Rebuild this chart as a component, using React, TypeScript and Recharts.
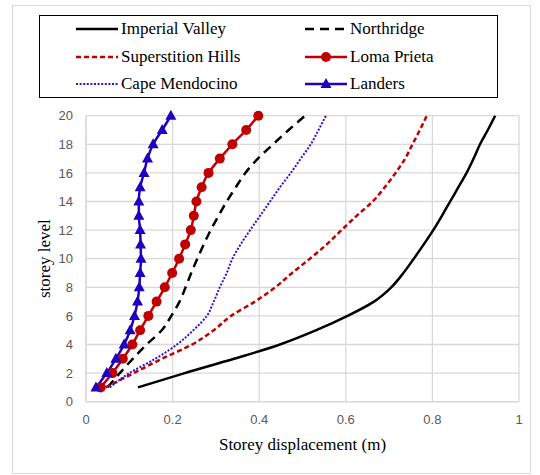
import { LineChart, Line, XAxis, YAxis, CartesianGrid, Legend, Label } from "recharts";

// storey displacement (m) at each storey level, per ground motion record
const storeyLevels = [1, 2, 3, 4, 5, 6, 7, 8, 9, 10, 11, 12, 13, 14, 15, 16, 17, 18, 19, 20];

const imperialValley = [0.12, 0.228, 0.342, 0.448, 0.532, 0.604, 0.665, 0.705, 0.733, 0.757, 0.78, 0.802, 0.822, 0.841, 0.86, 0.879, 0.895, 0.91, 0.928, 0.945];
const northridge = [0.05, 0.078, 0.108, 0.14, 0.175, 0.197, 0.216, 0.23, 0.243, 0.257, 0.272, 0.288, 0.306, 0.325, 0.346, 0.368, 0.397, 0.432, 0.468, 0.506];
const superstitionHills = [0.045, 0.11, 0.175, 0.245, 0.295, 0.335, 0.39, 0.437, 0.476, 0.517, 0.556, 0.59, 0.625, 0.662, 0.69, 0.715, 0.737, 0.754, 0.771, 0.787];
const lomaPrieta = [0.034, 0.061, 0.085, 0.107, 0.125, 0.144, 0.163, 0.182, 0.199, 0.215, 0.229, 0.242, 0.249, 0.255, 0.267, 0.283, 0.309, 0.338, 0.37, 0.398];
const capeMendocino = [0.055, 0.1, 0.16, 0.21, 0.248, 0.279, 0.295, 0.309, 0.325, 0.338, 0.357, 0.379, 0.402, 0.425, 0.448, 0.473, 0.496, 0.519, 0.537, 0.554];
const landers = [0.023, 0.048, 0.069, 0.088, 0.102, 0.112, 0.119, 0.123, 0.125, 0.127, 0.126, 0.125, 0.122, 0.122, 0.125, 0.134, 0.142, 0.155, 0.176, 0.196];

const xTicks = [0, 0.2, 0.4, 0.6, 0.8, 1];
const yTicks = [0, 2, 4, 6, 8, 10, 12, 14, 16, 18, 20];

type Marker = "circle" | "triangle";
type SeriesDef = { name: string; values: number[]; color: string; width: number; dash?: string; marker?: Marker };

const series: SeriesDef[] = [
  { name: "Imperial Valley", values: imperialValley, color: "#000000", width: 2.5 },
  { name: "Northridge", values: northridge, color: "#000000", width: 2.5, dash: "9 6" },
  { name: "Superstition Hills", values: superstitionHills, color: "#c00000", width: 2.5, dash: "5 3" },
  { name: "Loma Prieta", values: lomaPrieta, color: "#c00000", width: 2.5, marker: "circle" },
  { name: "Cape Mendocino", values: capeMendocino, color: "#2a14d8", width: 2, dash: "2 1.6" },
  { name: "Landers", values: landers, color: "#2000c0", width: 2.5, marker: "triangle" },
];

const toPoints = (values: number[]) => values.map((d, i) => ({ disp: d, level: storeyLevels[i] }));

const serif = "'Times New Roman', 'Liberation Serif', serif";
const sans = "'Liberation Sans', Arial, sans-serif";

const triPath = (cx: number, cy: number) => `M${cx},${cy - 6} L${cx + 5.5},${cy + 4} L${cx - 5.5},${cy + 4} Z`;

const renderDot = (marker: Marker | undefined, color: string) => {
  if (!marker) return false;
  if (marker === "circle") return { r: 5, fill: color, stroke: color, strokeWidth: 0 };
  return (p: any) => {
    if (p.cx == null || p.cy == null) return <g key={p.key} />;
    return <path key={p.key} d={triPath(p.cx, p.cy)} fill={color} />;
  };
};

const LegendSample = ({ s }: { s: SeriesDef }) => (
  <svg width={42} height={20} style={{ display: "block" }}>
    <line x1={0} y1={10} x2={42} y2={10} stroke={s.color} strokeWidth={s.width} strokeDasharray={s.dash} />
    {s.marker === "circle" && <circle cx={21} cy={10} r={5} fill={s.color} />}
    {s.marker === "triangle" && <path d={triPath(21, 10)} fill={s.color} />}
  </svg>
);

const LegendBox = () => (
  <div style={{ height: 100 }}>
    <div
      style={{
        position: "relative",
        width: 459,
        height: 83,
        border: "1px solid #000",
        boxSizing: "border-box",
        fontFamily: serif,
        fontSize: 17,
        color: "#000",
      }}
    >
      {series.map((s, i) => {
        const col = i % 2;
        const row = Math.floor(i / 2);
        return (
          <div
            key={s.name}
            style={{
              position: "absolute",
              left: col ? 265 : 36,
              top: 13 + row * 27.5 - 10,
              height: 20,
              display: "flex",
              alignItems: "center",
              whiteSpace: "nowrap",
            }}
          >
            <LegendSample s={s} />
            <span style={{ marginLeft: 3, lineHeight: "20px" }}>{s.name}</span>
          </div>
        );
      })}
    </div>
  </div>
);

export default function App() {
  return (
    <div style={{ position: "absolute", left: 0, top: 0, width: 540, height: 475, background: "#fff" }}>
      <div
        style={{
          position: "absolute",
          left: 12,
          top: 5,
          width: 519,
          height: 469,
          border: "1px solid #d9d9d9",
          boxSizing: "border-box",
        }}
      />
      <LineChart width={540} height={475} margin={{ top: 15.7, right: 21, bottom: 13.3, left: 26 }}>
        <CartesianGrid stroke="#d9d9d9" strokeWidth={1.3} />
        <XAxis
          type="number"
          dataKey="disp"
          domain={[0, 1]}
          ticks={xTicks}
          height={60}
          stroke="#d9d9d9"
          strokeWidth={1.5}
          tickLine={false}
          tickSize={0}
          tickMargin={13}
          tick={{ fill: "#595959", fontSize: 13, fontFamily: sans }}
        >
          <Label
            value="Storey displacement (m)"
            position="insideBottom"
            offset={11.7}
            fill="#000"
            fontSize={17}
            fontFamily={serif}
          />
        </XAxis>
        <YAxis
          type="number"
          dataKey="level"
          domain={[0, 20]}
          ticks={yTicks}
          width={60}
          stroke="#d9d9d9"
          strokeWidth={1.3}
          tickLine={false}
          tickSize={0}
          tickMargin={13}
          tick={{ fill: "#595959", fontSize: 13, fontFamily: sans }}
        >
          <Label
            content={({ viewBox }: any) => {
              const cx = viewBox.x + 19;
              const cy = viewBox.y + viewBox.height / 2;
              return (
                <text
                  x={cx}
                  y={cy}
                  transform={`rotate(-90 ${cx} ${cy})`}
                  textAnchor="middle"
                  dominantBaseline="central"
                  fill="#000"
                  fontSize={17}
                  fontFamily={serif}
                >
                  storey level
                </text>
              );
            }}
          />
        </YAxis>
        <Legend
          verticalAlign="top"
          align="left"
          content={() => <LegendBox />}
          wrapperStyle={{ top: 15, left: 39, width: 459 }}
        />
        {series.map((s) => (
          <Line
            key={s.name}
            name={s.name}
            data={toPoints(s.values)}
            dataKey="level"
            type="monotoneY"
            stroke={s.color}
            strokeWidth={s.width}
            strokeDasharray={s.dash}
            dot={renderDot(s.marker, s.color)}
            activeDot={false}
            isAnimationActive={false}
          />
        ))}
      </LineChart>
    </div>
  );
}
